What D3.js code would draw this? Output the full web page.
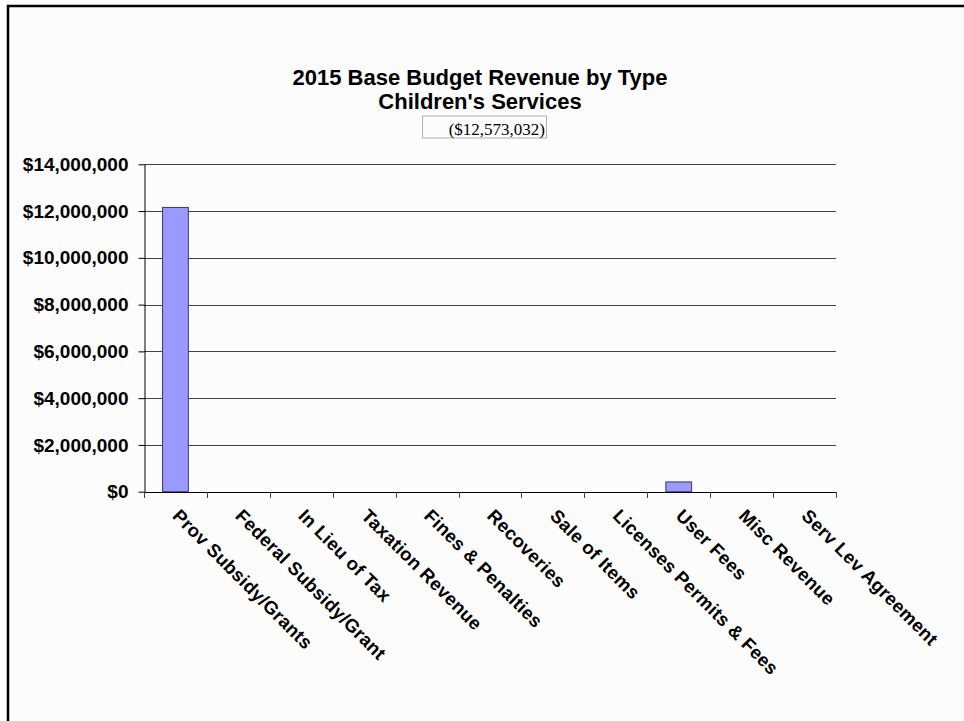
<!DOCTYPE html>
<html>
<head>
<meta charset="utf-8">
<script src="https://cdn.jsdelivr.net/npm/d3@7"></script>
<style>
  html, body { margin: 0; padding: 0; background: #ffffff; }
  svg { display: block; }
</style>
</head>
<body>
<svg id="chart" width="964" height="721"></svg>
<script>
// Revenue categories and 2015 base budget amounts
const categories = [
  "Prov Subsidy/Grants",
  "Federal Subsidy/Grant",
  "In Lieu of Tax",
  "Taxation Revenue",
  "Fines & Penalties",
  "Recoveries",
  "Sale of Items",
  "Licenses Permits & Fees",
  "User Fees",
  "Misc Revenue",
  "Serv Lev Agreement"
];
const revenue = [12155000, 0, 0, 0, 0, 0, 0, 0, 418032, 0, 0];
const yTicks = [0, 2000000, 4000000, 6000000, 8000000, 10000000, 12000000, 14000000];
const titleLines = ["2015 Base Budget Revenue by Type", "Children's Services"];

const svg = d3.select("#chart");
const W = 964, H = 721;
const plot = { left: 144, right: 836, top: 164.3, bottom: 491.7 };

// page frame
svg.append("rect")
  .attr("x", 8).attr("y", 6)
  .attr("width", W + 20).attr("height", H + 20)
  .attr("fill", "#fcfcfc")
  .attr("stroke", "#000").attr("stroke-width", 2.5);

// scales
const x = d3.scaleBand()
  .domain(categories)
  .range([plot.left, plot.right])
  .paddingInner(0.59)
  .paddingOuter(0.295);
const y = d3.scaleLinear()
  .domain([0, 14000000])
  .range([plot.bottom, plot.top]);

// title
const title = svg.append("text")
  .attr("text-anchor", "middle")
  .attr("font-family", "Liberation Sans, Arial, sans-serif")
  .attr("font-weight", "bold")
  .attr("font-size", 22)
  .attr("fill", "#000");
title.selectAll("tspan").data(titleLines).join("tspan")
  .attr("x", 480)
  .attr("y", (d, i) => 85 + i * 23.5)
  .text(d => d);

// total box
const total = d3.sum(revenue);
svg.append("rect")
  .attr("x", 422.5).attr("y", 116)
  .attr("width", 124).attr("height", 22)
  .attr("fill", "none")
  .attr("stroke", "#b0b0b0").attr("stroke-width", 1);
svg.append("text")
  .attr("x", 545).attr("y", 134.5)
  .attr("text-anchor", "end")
  .attr("font-family", "Liberation Serif, Times New Roman, serif")
  .attr("font-size", 17)
  .attr("fill", "#000")
  .text("(" + d3.format("$,")(total) + ")");

// gridlines
svg.append("g")
  .selectAll("line")
  .data(yTicks.filter(d => d > 0))
  .join("line")
  .attr("x1", plot.left).attr("x2", plot.right)
  .attr("y1", d => Math.round(y(d)) + 0.5)
  .attr("y2", d => Math.round(y(d)) + 0.5)
  .attr("stroke", "#444").attr("stroke-width", 1);

// bars
svg.append("g")
  .selectAll("rect")
  .data(categories.map((c, i) => ({ c, v: revenue[i] })).filter(d => d.v > 0))
  .join("rect")
  .attr("x", d => x(d.c))
  .attr("y", d => y(d.v))
  .attr("width", x.bandwidth())
  .attr("height", d => y(0) - y(d.v))
  .attr("fill", "#9999ff")
  .attr("stroke", "#3a3a6a").attr("stroke-width", 1);

// y axis
const yAxis = svg.append("g")
  .attr("transform", `translate(${plot.left + 0.5},0)`)
  .call(d3.axisLeft(y)
    .tickValues(yTicks)
    .tickFormat(d3.format("$,"))
    .tickSize(6)
    .tickSizeOuter(0)
    .tickPadding(10));
yAxis.select(".domain").attr("stroke", "#000");
yAxis.selectAll(".tick line").attr("stroke", "#000");
yAxis.selectAll(".tick text")
  .attr("font-family", "Liberation Sans, Arial, sans-serif")
  .attr("font-weight", "bold")
  .attr("font-size", 19)
  .attr("fill", "#000");

// x axis line
svg.append("line")
  .attr("x1", plot.left).attr("x2", plot.right)
  .attr("y1", Math.round(plot.bottom) + 0.5).attr("y2", Math.round(plot.bottom) + 0.5)
  .attr("stroke", "#000");

// x category boundary ticks
const bounds = categories.map(c => x(c) - x.step() * x.paddingInner() / 2).concat([plot.right]);
svg.append("g")
  .selectAll("line")
  .data(bounds)
  .join("line")
  .attr("x1", d => Math.round(d) + 0.5).attr("x2", d => Math.round(d) + 0.5)
  .attr("y1", Math.round(plot.bottom)).attr("y2", Math.round(plot.bottom) + 6)
  .attr("stroke", "#444");

// rotated category labels
svg.append("g")
  .selectAll("text")
  .data(categories)
  .join("text")
  .attr("transform", d => `translate(${x(d) + x.bandwidth() / 2 - 4},517) rotate(45)`)
  .attr("text-anchor", "start")
  .attr("font-family", "Liberation Sans, Arial, sans-serif")
  .attr("font-weight", "bold")
  .attr("font-size", 18.5)
  .attr("letter-spacing", 0.3)
  .attr("fill", "#000")
  .text(d => d);
</script>
</body>
</html>
